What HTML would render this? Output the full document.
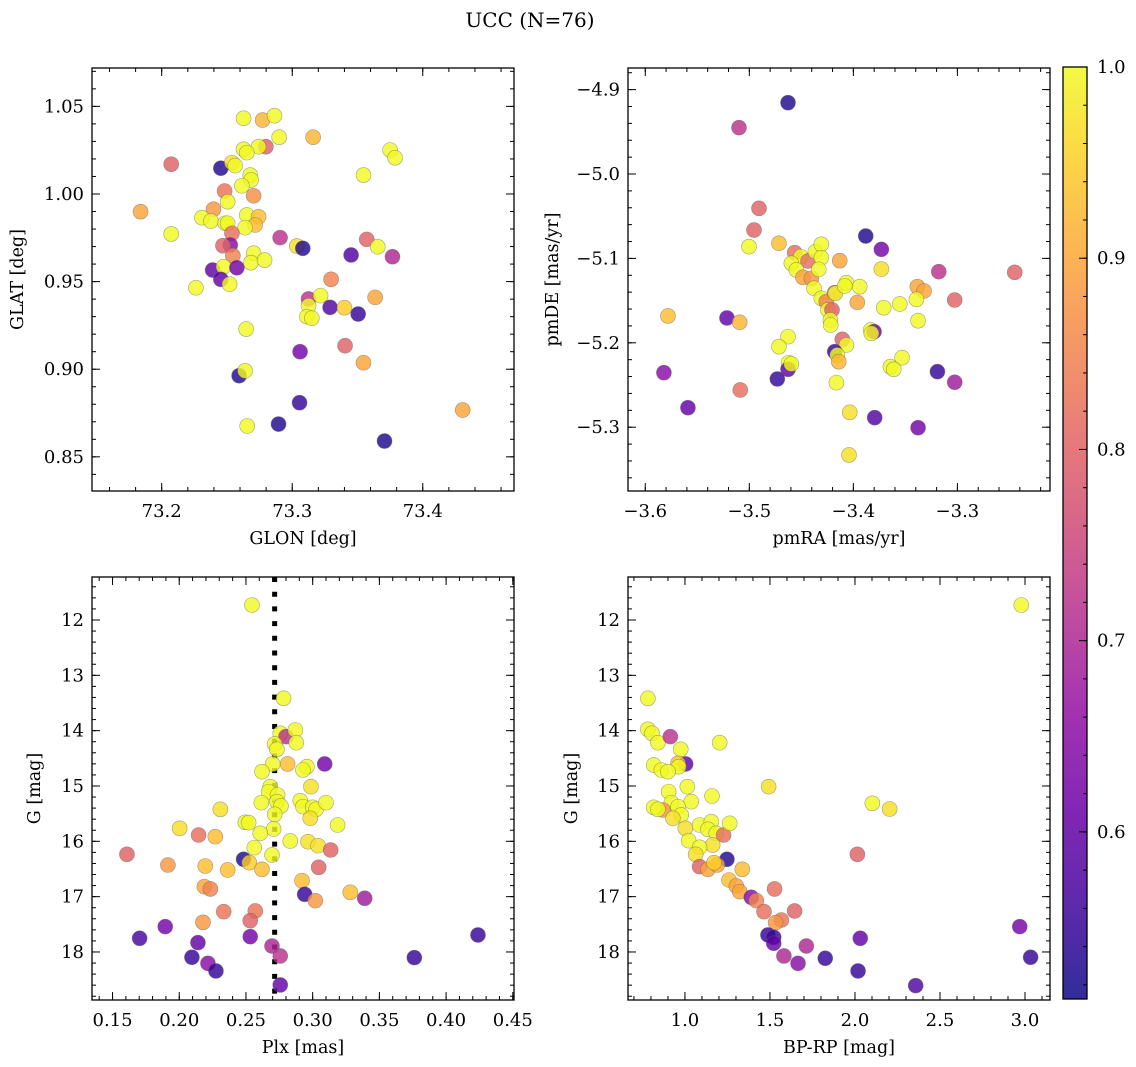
<!DOCTYPE html>
<html><head><meta charset="utf-8"><style>
html,body{margin:0;padding:0;background:#fff;}
svg{display:block;font-family:"DejaVu Serif","Liberation Serif",serif;}
</style></head><body>
<svg id="fig" width="1136" height="1067" viewBox="0 0 1136 1067" xmlns="http://www.w3.org/2000/svg">
<text x="530" y="27" font-size="20" text-anchor="middle">UCC (N=76)</text>
</svg>
<script>
// ---- Panel 1: GLON / GLAT ----
const p1Lon=[73.2627,73.2773,73.2864,73.2900,73.3160,73.2798,73.2742,73.2627,73.2652,73.2073,73.2453,73.2538,73.2563,73.3750,73.3788,73.3546,73.2678,73.2685,73.2614,73.2704,73.2482,73.2505,73.1838,73.2397,73.2308,73.2377,73.2486,73.2505,73.2652,73.2742,73.2716,73.2639,73.2073,73.2538,73.2907,73.2525,73.2469,73.2545,73.3035,73.3081,73.2704,73.2683,73.2788,73.3451,73.3571,73.3655,73.3768,73.2390,73.2474,73.2576,73.2453,73.2520,73.2262,73.3298,73.3125,73.3217,73.3125,73.3112,73.3150,73.3290,73.3400,73.3505,73.3635,73.2647,73.3060,73.3405,73.3546,73.2593,73.2639,73.3056,73.2655,73.2895,73.3707,73.4306];
const p1Lat=[1.0432,1.0422,1.0447,1.0324,1.0324,1.0270,1.0270,1.0255,1.0236,1.0170,1.0147,1.0179,1.0162,1.0251,1.0207,1.0108,1.0108,1.0080,1.0047,0.9990,1.0017,0.9956,0.9899,0.9913,0.9865,0.9846,0.9833,0.9833,0.9880,0.9870,0.9823,0.9808,0.9772,0.9776,0.9751,0.9709,0.9705,0.9648,0.9703,0.9690,0.9662,0.9608,0.9623,0.9652,0.9741,0.9699,0.9642,0.9566,0.9585,0.9579,0.9513,0.9485,0.9465,0.9513,0.9401,0.9420,0.9362,0.9300,0.9291,0.9353,0.9351,0.9315,0.9410,0.9229,0.9100,0.9134,0.9037,0.8963,0.8991,0.8809,0.8676,0.8687,0.8590,0.8767];
const p1Prob=[1,0.92,1,1,0.92,0.8,1,1,1,0.8,0.53,0.97,1,1,1,1,1,1,1,0.87,0.83,1,0.9,0.88,1,1,1,1,1,0.93,0.93,1,1,0.82,0.72,0.65,0.8,0.85,0.97,0.53,1,1,1,0.58,0.8,1,0.7,0.6,1,0.62,0.6,1,1,0.85,0.72,1,1,1,1,0.58,0.95,0.55,0.9,1,0.62,0.8,0.9,0.53,1,0.55,1,0.53,0.53,0.9];
const p1XTicks=[73.2,73.3,73.4];
const p1YTicks=[0.85,0.90,0.95,1.00,1.05];
// ---- Panel 2: pmRA / pmDE ----
const p2Pmra=[-3.4628,-3.5099,-3.4907,-3.4955,-3.5003,-3.4715,-3.4564,-3.4506,-3.4436,-3.4596,-3.4548,-3.4484,-3.4404,-3.4365,-3.4308,-3.4308,-3.4333,-3.4378,-3.4308,-3.4260,-3.4179,-3.4173,-3.4244,-3.4205,-3.4221,-3.4218,-3.4131,-3.4067,-3.4083,-3.3939,-3.3962,-3.3881,-3.3731,-3.3731,-3.3179,-3.2449,-3.3385,-3.3321,-3.3394,-3.3026,-3.3708,-3.3554,-3.3378,-3.5782,-3.5215,-3.5093,-3.3833,-3.3801,-3.3827,-3.4628,-3.4715,-3.4106,-3.4067,-3.4179,-3.4154,-3.4141,-3.4622,-3.4628,-3.4596,-3.3532,-3.3644,-3.3612,-3.5821,-3.4731,-3.3192,-3.3026,-3.5087,-3.4163,-3.5590,-3.4035,-3.3795,-3.3378,-3.4042];
const p2Pmde=[-4.9155,-4.9451,-5.0407,-5.0664,-5.0861,-5.0821,-5.0932,-5.0979,-5.1031,-5.1058,-5.1137,-5.1224,-5.1236,-5.0920,-5.0833,-5.0991,-5.1130,-5.1355,-5.1473,-5.1513,-5.1406,-5.1414,-5.1611,-5.1611,-5.1730,-5.1789,-5.1027,-5.1288,-5.1327,-5.1335,-5.1521,-5.0735,-5.0893,-5.1126,-5.1157,-5.1165,-5.1335,-5.1386,-5.1485,-5.1493,-5.1584,-5.1540,-5.1738,-5.1682,-5.1706,-5.1757,-5.1848,-5.1868,-5.1888,-5.1927,-5.2046,-5.1959,-5.2026,-5.2105,-5.2145,-5.2224,-5.2235,-5.2314,-5.2251,-5.2176,-5.2283,-5.2314,-5.2354,-5.2429,-5.2342,-5.2468,-5.2559,-5.2472,-5.2769,-5.2824,-5.2887,-5.3006,-5.3329];
const p2Prob=[0.53,0.72,0.8,0.8,1,0.93,0.82,1,0.82,1,1,0.9,0.88,1,1,1,1,1,1,0.85,0.8,1,1,0.8,1,1,0.9,1,1,1,0.9,0.53,0.62,0.97,0.72,0.8,0.9,0.9,1,0.8,1,1,1,0.93,0.6,0.92,1,0.62,1,1,1,0.8,1,0.55,1,0.92,1,0.6,1,1,1,1,0.65,0.55,0.55,0.68,0.82,1,0.6,0.97,0.58,0.62,0.97];
const p2XTicks=[-3.6,-3.5,-3.4,-3.3];
const p2YTicks=[-4.9,-5.0,-5.1,-5.2,-5.3];
// ---- Panel 3: Plx / G ----
const p3Plx=[0.2545,0.2782,0.2757,0.2800,0.2870,0.2877,0.2715,0.2732,0.3090,0.2812,0.2957,0.2927,0.2700,0.2620,0.2682,0.2670,0.2737,0.2732,0.2762,0.2615,0.2987,0.2907,0.2927,0.3000,0.3025,0.3100,0.2982,0.2715,0.2308,0.2495,0.2520,0.2707,0.2607,0.3187,0.2003,0.2145,0.2270,0.2832,0.2965,0.3040,0.3135,0.2562,0.2695,0.1608,0.2482,0.2525,0.1915,0.2195,0.2363,0.2620,0.3045,0.2920,0.2188,0.2233,0.3282,0.3390,0.2940,0.3020,0.2333,0.2570,0.2532,0.2178,0.1895,0.1703,0.2140,0.2532,0.2695,0.2757,0.2095,0.2215,0.2275,0.2757,0.3762,0.4239];
const p3G=[11.729,13.416,14.048,14.108,13.988,14.217,14.241,14.337,14.602,14.602,14.651,14.711,14.602,14.741,15.012,15.102,15.163,15.283,15.361,15.301,15.012,15.265,15.373,15.386,15.422,15.301,15.584,15.512,15.422,15.657,15.663,15.777,15.855,15.705,15.765,15.886,15.916,15.994,16.006,16.078,16.157,16.114,16.247,16.235,16.325,16.386,16.428,16.446,16.518,16.506,16.470,16.711,16.819,16.861,16.922,17.030,16.958,17.072,17.271,17.259,17.434,17.464,17.542,17.753,17.831,17.723,17.892,18.072,18.096,18.205,18.343,18.596,18.102,17.693];
const p3Prob=[1,1,1,0.72,1,1,1,1,0.62,0.93,1,1,1,1,1,1,1,1,1,1,0.97,1,1,1,1,1,0.97,1,0.97,1,1,1,1,1,0.97,0.82,0.93,1,0.97,0.97,0.8,1,1,0.8,0.53,0.95,0.88,0.93,0.93,0.93,0.8,0.93,0.9,0.85,0.93,0.68,0.55,0.88,0.83,0.83,0.8,0.88,0.62,0.57,0.6,0.62,0.7,0.72,0.55,0.65,0.55,0.6,0.55,0.55];
const p3PlxMedian=[0.2715];
const p3XTicks=[0.15,0.20,0.25,0.30,0.35,0.40,0.45];
const gTicks=[12,13,14,15,16,17,18];
// ---- Panel 4: BP-RP / G ----
const p4Color=[2.978,0.782,0.782,0.806,0.841,0.914,0.975,1.204,1.004,0.959,0.963,0.816,0.861,0.900,1.492,1.014,0.904,1.159,1.037,0.920,0.959,0.871,0.816,0.841,0.978,0.929,1.002,2.102,2.204,1.086,1.155,1.135,1.184,1.227,1.263,1.022,1.163,1.086,1.063,2.014,1.247,1.086,1.135,1.190,1.171,1.337,1.259,1.302,1.322,1.390,1.420,1.527,1.465,1.645,1.567,1.533,1.488,1.522,1.522,2.031,1.714,1.582,1.665,1.825,2.018,2.357,2.969,3.033];
const p4G=[11.729,13.416,13.976,14.048,14.217,14.108,14.337,14.217,14.602,14.590,14.651,14.620,14.711,14.741,15.012,15.012,15.102,15.181,15.283,15.301,15.373,15.434,15.386,15.422,15.524,15.584,15.765,15.313,15.416,15.705,15.645,15.783,15.855,15.886,15.675,15.988,16.066,16.108,16.235,16.235,16.325,16.458,16.506,16.428,16.386,16.506,16.699,16.807,16.910,17.012,17.072,16.861,17.271,17.259,17.422,17.470,17.693,17.735,17.843,17.753,17.892,18.072,18.205,18.114,18.343,18.608,17.542,18.096];
const p4Prob=[1,1,1,1,1,0.72,1,1,0.6,0.93,1,1,1,1,0.97,1,1,1,1,1,1,0.88,1,1,1,0.97,0.97,1,0.97,1,1,1,1,0.82,1,1,0.97,1,0.97,0.8,0.53,0.8,0.9,0.9,0.95,0.93,0.93,0.9,0.9,0.65,0.85,0.82,0.82,0.8,0.83,0.88,0.55,0.55,0.6,0.6,0.7,0.7,0.65,0.55,0.55,0.58,0.62,0.55];
const p4XTicks=[1.0,1.5,2.0,2.5,3.0];
// ---- Colorbar ----
const cbTicks=[0.6,0.7,0.8,0.9,1.0];
const cbMin=0.5126, cbMax=1.0;

const NS="http://www.w3.org/2000/svg";
const svg=document.getElementById('fig');
function mk(tag,attrs,parent){const e=document.createElementNS(NS,tag);for(const k in attrs)e.setAttribute(k,attrs[k]);(parent||svg).appendChild(e);return e;}
const PL=[[13,8,135],[65,4,157],[106,0,168],[143,13,164],[177,42,144],[204,71,120],[225,100,98],[242,132,75],[252,166,54],[252,206,37],[240,249,33]];
function plasma(t){t=Math.max(0,Math.min(1,t));const f=t*10,i=Math.min(9,Math.floor(f)),r=f-i;const a=PL[i],b=PL[i+1];return 'rgb('+a.map((v,k)=>Math.round(v+(b[k]-v)*r)).join(',')+')';}
function cnorm(p){return (p-cbMin)/(cbMax-cbMin);}
const TF=18, AF=17.5;

function panel(cfg){
  const g=mk('g',{});
  
  
  const sx=v=>cfg.L+(v-cfg.xmin)/(cfg.xmax-cfg.xmin)*(cfg.R-cfg.L);
  const sy=v=>cfg.B-(v-cfg.ymin)/(cfg.ymax-cfg.ymin)*(cfg.B-cfg.T);
  const clip='clip-'+cfg.name;
  const cp=mk('clipPath',{id:clip},g);mk('rect',{x:cfg.L,y:cfg.T,width:cfg.R-cfg.L,height:cfg.B-cfg.T},cp);
  const pts=mk('g',{'clip-path':'url(#'+clip+')'},g);
  if(cfg.vline){cfg.vline.forEach(v=>{const l=mk('line',{x1:sx(v),x2:sx(v),y1:cfg.T,y2:cfg.B,stroke:'#000','stroke-width':5,'stroke-dasharray':'5 9.7'},pts);
    
    });}
  cfg.xs.forEach((xv,i)=>{const c=mk('circle',{cx:sx(xv),cy:sy(cfg.ys[i]),r:7.5,fill:plasma(cnorm(cfg.cs[i])),'fill-opacity':0.82,stroke:'#666','stroke-opacity':0.6,'stroke-width':0.6},pts);
    
    });
  mk('rect',{x:cfg.L,y:cfg.T,width:cfg.R-cfg.L,height:cfg.B-cfg.T,fill:'none',stroke:'#000','stroke-width':1.3},g);
  const tk=mk('g',{stroke:'#000','stroke-width':1},g);
  const xa=Math.min(cfg.xmin,cfg.xmax),xb=Math.max(cfg.xmin,cfg.xmax);
  for(let k=Math.ceil(xa/cfg.xminor-1e-6);k*cfg.xminor<=xb+1e-9;k++){const v=k*cfg.xminor,x=sx(v);
    mk('line',{x1:x,x2:x,y1:cfg.B,y2:cfg.B-4},tk);mk('line',{x1:x,x2:x,y1:cfg.T,y2:cfg.T+4},tk);}
  const ya=Math.min(cfg.ymin,cfg.ymax),yb=Math.max(cfg.ymin,cfg.ymax);
  for(let k=Math.ceil(ya/cfg.yminor-1e-6);k*cfg.yminor<=yb+1e-9;k++){const v=k*cfg.yminor,y=sy(v);
    mk('line',{x1:cfg.L,x2:cfg.L+4,y1:y,y2:y},tk);mk('line',{x1:cfg.R,x2:cfg.R-4,y1:y,y2:y},tk);}
  cfg.xt.forEach(v=>{const x=sx(v);mk('line',{x1:x,x2:x,y1:cfg.B,y2:cfg.B-8},tk);mk('line',{x1:x,x2:x,y1:cfg.T,y2:cfg.T+8},tk);
    const t=mk('text',{x:x,y:cfg.B+26,'font-size':TF,'text-anchor':'middle'},g);t.textContent=cfg.fx(v);
    
    });
  cfg.yt.forEach(v=>{const y=sy(v);mk('line',{x1:cfg.L,x2:cfg.L+8,y1:y,y2:y},tk);mk('line',{x1:cfg.R,x2:cfg.R-8,y1:y,y2:y},tk);
    const t=mk('text',{x:cfg.L-8,y:y+6,'font-size':TF,'text-anchor':'end'},g);t.textContent=cfg.fy(v);
    
    });
  const xl=mk('text',{x:(cfg.L+cfg.R)/2,y:cfg.B+53,'font-size':AF,'text-anchor':'middle'},g);xl.textContent=cfg.xlabel;
  
  
  const yx=cfg.ylx,ycy=(cfg.T+cfg.B)/2;
  const yl=mk('text',{x:yx,y:ycy,'font-size':AF,'text-anchor':'middle',transform:'rotate(-90 '+yx+' '+ycy+')'},g);yl.textContent=cfg.ylabel;
  
  
}
const minus=s=>s.replace('-','\u2212');
panel({name:'glon-glat-panel',L:92,R:514,T:68,B:491,xmin:73.1466,xmax:73.4699,ymin:0.8305,ymax:1.0719,xs:p1Lon,ys:p1Lat,cs:p1Prob,xt:p1XTicks,yt:p1YTicks,xminor:0.02,yminor:0.01,fx:v=>v.toFixed(1),fy:v=>v.toFixed(2),xlabel:'GLON [deg]',ylabel:'GLAT [deg]',ylx:23});
panel({name:'pm-panel',L:628,R:1050,T:68,B:491,xmin:-3.6166,xmax:-3.211,ymin:-5.3756,ymax:-4.8744,xs:p2Pmra,ys:p2Pmde,cs:p2Prob,xt:p2XTicks,yt:p2YTicks,xminor:0.02,yminor:0.02,fx:v=>minus(v.toFixed(1)),fy:v=>minus(v.toFixed(1)),xlabel:'pmRA [mas/yr]',ylabel:'pmDE [mas/yr]',ylx:558});
panel({name:'plx-g-panel',L:92,R:514,T:577,B:1000,xmin:0.1346,xmax:0.4509,ymin:18.868,ymax:11.223,xs:p3Plx,ys:p3G,cs:p3Prob,xt:p3XTicks,yt:gTicks,xminor:0.01,yminor:0.2,fx:v=>v.toFixed(2),fy:v=>String(v),xlabel:'Plx [mas]',ylabel:'G [mag]',ylx:40,vline:p3PlxMedian});
panel({name:'cmd-panel',L:628,R:1050,T:577,B:1000,xmin:0.665,xmax:3.147,ymin:18.868,ymax:11.223,xs:p4Color,ys:p4G,cs:p4Prob,xt:p4XTicks,yt:gTicks,xminor:0.1,yminor:0.2,fx:v=>v.toFixed(1),fy:v=>String(v),xlabel:'BP-RP [mag]',ylabel:'G [mag]',ylx:577});

const cb=mk('g',{});


const defs=mk('defs',{},cb);
const lg=mk('linearGradient',{id:'cbgrad',x1:0,y1:1,x2:0,y2:0},defs);
for(let i=0;i<=20;i++){mk('stop',{offset:i/20,'stop-color':plasma(i/20),'stop-opacity':0.85},lg);}
const CT=67,CB=999,CL=1063,CR=1087;
mk('rect',{x:CL,y:CT,width:CR-CL,height:CB-CT,fill:'url(#cbgrad)',stroke:'#000','stroke-width':1.3},cb);
const cy=v=>CB-(v-cbMin)/(cbMax-cbMin)*(CB-CT);
for(let k=26;k<=50;k++){const v=k*0.02;if(v<cbMin)continue;const y=cy(v);mk('line',{x1:CR,x2:CR-4,y1:y,y2:y,stroke:'#000'},cb);}
cbTicks.forEach(v=>{const y=cy(v);mk('line',{x1:CR,x2:CR-8,y1:y,y2:y,stroke:'#000'},cb);
  const t=mk('text',{x:CR+10,y:y+6,'font-size':TF},cb);t.textContent=v.toFixed(1);
  
  });
</script>
</body></html>
